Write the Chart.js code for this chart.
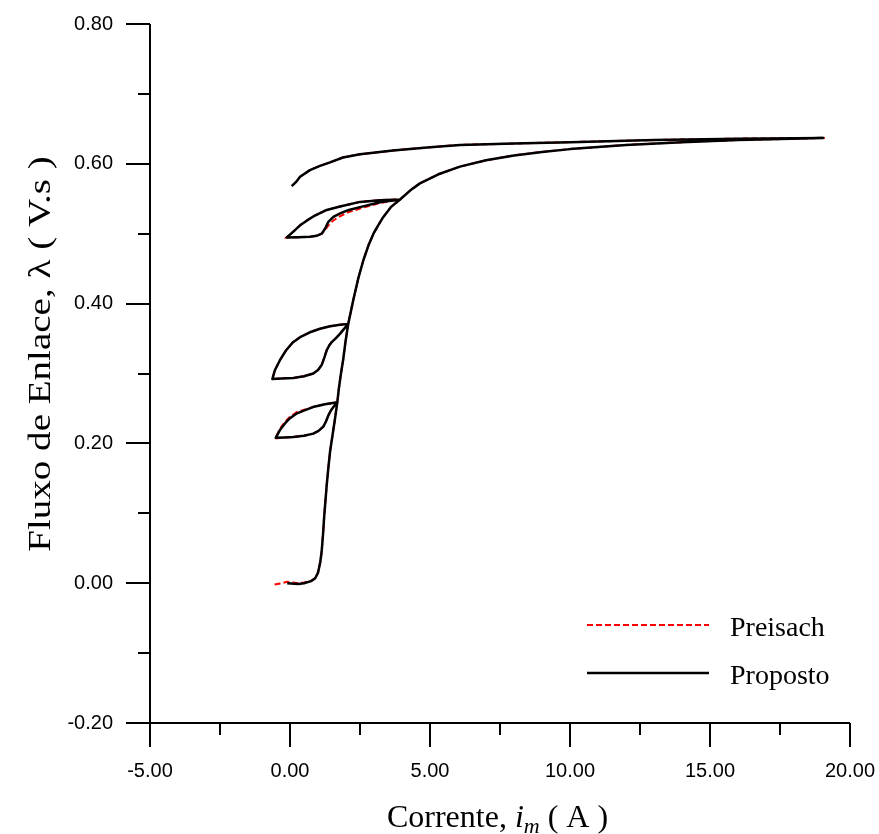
<!DOCTYPE html>
<html>
<head>
<meta charset="utf-8">
<script src="https://cdn.jsdelivr.net/npm/chart.js@4"></script>
<style>
  html, body { margin: 0; padding: 0; background: #fff; }
  #wrap { width: 879px; height: 834px; }
</style>
</head>
<body>
<div id="wrap"><canvas id="grafico" width="879" height="834"></canvas></div>
<script>
  // corrente (A) e fluxo (V.s)
  const propostoI = [
    -0.1, 0.3, 0.5, 0.75, 0.9, 1.0, 1.08, 1.13, 1.18, 1.22, 1.27, 1.31, 1.37, 1.43, 1.52, 1.61, 1.69,
    1.25, 0.82, 0.54, 0.25, 0.0, -0.18, -0.36, -0.51,
    -0.2, 0.12, 0.5, 0.83, 1.02, 1.19, 1.28, 1.37, 1.46, 1.55, 1.69,
    1.75, 1.82, 1.9, 1.98, 2.08,
    1.79, 1.43, 1.07, 0.71, 0.36, 0.11, -0.14, -0.36, -0.54, -0.63,
    -0.3, 0.12, 0.5, 0.83, 1.0, 1.13, 1.22, 1.31, 1.4, 1.49, 1.65, 1.79, 2.08,
    2.26, 2.45, 2.62, 2.8, 2.98, 3.15, 3.3, 3.6, 3.93,
    3.21, 2.5, 1.79, 1.31, 0.89, 0.61, 0.36, 0.11, -0.12,
    0.3, 0.71, 0.95, 1.13, 1.25, 1.37, 1.55, 1.79, 2.1, 2.5, 3.21, 3.93,
    4.3, 4.64, 5.3, 6.07, 7, 8, 9, 10, 12, 14, 16, 19.04,
    16, 13, 10, 8, 6.07, 5.0, 3.68, 2.5, 1.89, 1.43, 1.07, 0.71, 0.36, 0.21, 0.06
  ];
  const propostoLambda = [
    0.0, -0.001, 0.0, 0.003, 0.007, 0.015, 0.03, 0.045, 0.07, 0.095, 0.12, 0.14, 0.165, 0.188, 0.212, 0.236, 0.259,
    0.256, 0.252, 0.2475, 0.243, 0.236, 0.2285, 0.219, 0.208,
    0.2085, 0.209, 0.211, 0.214, 0.218, 0.224, 0.231, 0.24, 0.247, 0.252, 0.259,
    0.28, 0.3, 0.32, 0.345, 0.371,
    0.3698, 0.3677, 0.364, 0.359, 0.352, 0.3448, 0.3333, 0.319, 0.3047, 0.292,
    0.293, 0.2937, 0.296, 0.3, 0.305, 0.312, 0.322, 0.333, 0.34, 0.345, 0.351, 0.357, 0.371,
    0.405, 0.438, 0.462, 0.483, 0.5, 0.512, 0.522, 0.538, 0.549,
    0.548, 0.5455, 0.539, 0.534, 0.526, 0.519, 0.512, 0.5026, 0.4946,
    0.495, 0.4955, 0.497, 0.5, 0.507, 0.517, 0.524, 0.529, 0.534, 0.538, 0.545, 0.549,
    0.562, 0.572, 0.585, 0.596, 0.605, 0.612, 0.617, 0.621, 0.627, 0.631, 0.634, 0.637,
    0.636, 0.634, 0.631, 0.629, 0.627, 0.6237, 0.619, 0.6137, 0.609, 0.602, 0.597, 0.591, 0.5815, 0.5737, 0.568
  ];

  const preisachI = [
    -0.55, -0.3, -0.1, 0.1, 0.3, 0.5, 0.75, 0.9, 1.0, 1.08, 1.13, 1.18, 1.22, 1.27, 1.31, 1.37, 1.43, 1.52, 1.61, 1.69,
    1.25, 0.82, 0.54, 0.25, 0.0, -0.18, -0.36, -0.53,
    -0.2, 0.12, 0.5, 0.83, 1.02, 1.19, 1.28, 1.37, 1.46, 1.55, 1.69,
    1.75, 1.82, 1.9, 1.98, 2.08,
    1.79, 1.43, 1.07, 0.71, 0.36, 0.11, -0.14, -0.36, -0.54, -0.63,
    -0.3, 0.12, 0.5, 0.83, 1.0, 1.13, 1.22, 1.31, 1.4, 1.49, 1.65, 1.79, 2.08,
    2.26, 2.45, 2.62, 2.8, 2.98, 3.15, 3.3, 3.6, 3.93,
    3.21, 2.5, 1.79, 1.31, 0.89, 0.61, 0.36, 0.11, -0.12,
    0.3, 0.71, 0.95, 1.13, 1.25, 1.37, 1.55, 1.79, 2.1, 2.5, 3.21, 3.93,
    4.3, 4.64, 5.3, 6.07, 7, 8, 9, 10, 12, 14, 16, 19.1,
    16, 13, 10, 8, 6.07, 5.0, 3.68, 2.5, 1.89, 1.43, 1.07, 0.71, 0.36, 0.21, 0.06
  ];
  const preisachLambda = [
    -0.002, 0.0, 0.002, 0.001, 0.0, 0.001, 0.003, 0.007, 0.015, 0.03, 0.046, 0.07, 0.095, 0.12, 0.14, 0.165, 0.188, 0.212, 0.236, 0.259,
    0.256, 0.252, 0.2485, 0.245, 0.238, 0.231, 0.221, 0.207,
    0.2085, 0.209, 0.211, 0.214, 0.218, 0.224, 0.231, 0.24, 0.247, 0.252, 0.259,
    0.28, 0.3, 0.32, 0.345, 0.371,
    0.3698, 0.3677, 0.364, 0.359, 0.352, 0.3448, 0.3333, 0.319, 0.3047, 0.292,
    0.293, 0.2937, 0.296, 0.3, 0.305, 0.312, 0.322, 0.333, 0.34, 0.345, 0.351, 0.357, 0.371,
    0.405, 0.438, 0.462, 0.483, 0.5, 0.512, 0.522, 0.538, 0.549,
    0.548, 0.5455, 0.539, 0.534, 0.526, 0.519, 0.512, 0.5026, 0.4946,
    0.495, 0.4955, 0.497, 0.5, 0.505, 0.512, 0.519, 0.525, 0.531, 0.536, 0.544, 0.549,
    0.562, 0.572, 0.585, 0.596, 0.605, 0.612, 0.617, 0.621, 0.627, 0.631, 0.634, 0.637,
    0.636, 0.634, 0.631, 0.629, 0.627, 0.6237, 0.619, 0.6137, 0.609, 0.602, 0.597, 0.591, 0.5815, 0.5737, 0.568
  ];

  const xTicks = [-5, 0, 5, 10, 15, 20];
  const yTicks = [-0.2, 0, 0.2, 0.4, 0.6, 0.8];
  const legendNames = ["Preisach", "Proposto"];

  function pontos(xs, ys) {
    return xs.map((x, k) => ({ x: x, y: ys[k] }));
  }

  const isMajor = (v, list) => list.some(t => Math.abs(t - v) < 1e-6);

  // eixos, marcas, titulos e legenda
  const desenho = {
    id: "desenho",
    afterDraw(chart) {
      const c = chart.ctx;
      const a = chart.chartArea;
      const sx = chart.scales.x, sy = chart.scales.y;
      c.save();
      c.strokeStyle = "black";
      c.lineWidth = 2;
      c.beginPath();
      c.moveTo(a.left, a.top); c.lineTo(a.left, a.bottom);
      c.moveTo(a.left, a.bottom); c.lineTo(a.right, a.bottom);
      sx.ticks.forEach(t => {
        const px = Math.round(sx.getPixelForValue(t.value));
        const len = isMajor(t.value, xTicks) ? 24 : 12;
        c.moveTo(px, a.bottom); c.lineTo(px, a.bottom + len);
      });
      sy.ticks.forEach(t => {
        const py = Math.round(sy.getPixelForValue(t.value));
        const len = isMajor(t.value, yTicks) ? 24 : 12;
        c.moveTo(a.left, py); c.lineTo(a.left - len, py);
      });
      c.stroke();

      // titulo x
      c.fillStyle = "black";
      c.textBaseline = "alphabetic";
      const f1 = "32px 'Liberation Serif'";
      const fi = "italic 32px 'Liberation Serif'";
      const fs = "italic 22px 'Liberation Serif'";
      const parts = [["Corrente, ", f1, 0], ["i", fi, 0], ["m", fs, 6], [" ( A )", f1, 0]];
      let total = 0;
      parts.forEach(p => { c.font = p[1]; total += c.measureText(p[0]).width; });
      let x0 = 497.5 - total / 2;
      parts.forEach(p => {
        c.font = p[1];
        c.fillText(p[0], x0, 827 + p[2]);
        x0 += c.measureText(p[0]).width;
      });

      // titulo y
      c.save();
      c.translate(50, 354);
      c.rotate(-Math.PI / 2);
      c.scale(1.22, 1);
      c.font = f1;
      c.textAlign = "center";
      c.fillText("Fluxo de Enlace, \u03BB ( V.s )", 0, 0);
      c.restore();

      // legenda
      const ordem = [1, 0];
      ordem.forEach((dsIdx, k) => {
        const ds = chart.data.datasets[dsIdx];
        const ly = 625 + k * 48;
        c.beginPath();
        c.strokeStyle = ds.borderColor;
        c.lineWidth = ds.borderWidth;
        c.setLineDash(ds.borderDash || []);
        c.moveTo(587, ly); c.lineTo(709, ly);
        c.stroke();
        c.setLineDash([]);
        c.font = "28px 'Liberation Serif'";
        c.textAlign = "left";
        c.fillText(ds.label, 730, ly + 11);
      });
      c.restore();
    }
  };

  const ctx = document.getElementById("grafico");
  const grafico = new Chart(ctx, {
    type: "scatter",
    data: {
      datasets: [
        {
          label: legendNames[1],
          data: pontos(propostoI, propostoLambda),
          showLine: true,
          borderColor: "black",
          borderWidth: 2.5,
          borderJoinStyle: "round",
          pointRadius: 0,
          tension: 0,
          order: 1
        },
        {
          label: legendNames[0],
          data: pontos(preisachI, preisachLambda),
          showLine: true,
          borderColor: "#ff0000",
          borderWidth: 2,
          borderDash: [6, 3],
          pointRadius: 0,
          tension: 0,
          order: 2
        }
      ]
    },
    options: {
      responsive: false,
      devicePixelRatio: 1,
      animation: false,
      layout: { padding: { left: 0, top: 24, right: 29, bottom: 0 } },
      plugins: { legend: { display: false }, tooltip: { enabled: false } },
      scales: {
        x: {
          type: "linear",
          min: -5,
          max: 20,
          grid: { display: false, drawTicks: false },
          border: { display: false },
          ticks: {
            stepSize: 2.5,
            autoSkip: false,
            maxRotation: 0,
            padding: 36,
            color: "black",
            font: { family: "'Liberation Sans'", size: 20 },
            callback: v => isMajor(v, xTicks) ? v.toFixed(2) : ""
          },
          afterFit: s => { s.height = 111; s.paddingLeft = 0; s.paddingRight = 0; }
        },
        y: {
          type: "linear",
          min: -0.2,
          max: 0.8,
          grid: { display: false, drawTicks: false },
          border: { display: false },
          ticks: {
            stepSize: 0.1,
            autoSkip: false,
            padding: 37,
            color: "black",
            font: { family: "'Liberation Sans'", size: 20 },
            callback: v => isMajor(v, yTicks) ? v.toFixed(2) : ""
          },
          afterFit: s => { s.width = 150; s.paddingTop = 0; s.paddingBottom = 0; }
        }
      }
    },
    plugins: [desenho]
  });
</script>
</body>
</html>
